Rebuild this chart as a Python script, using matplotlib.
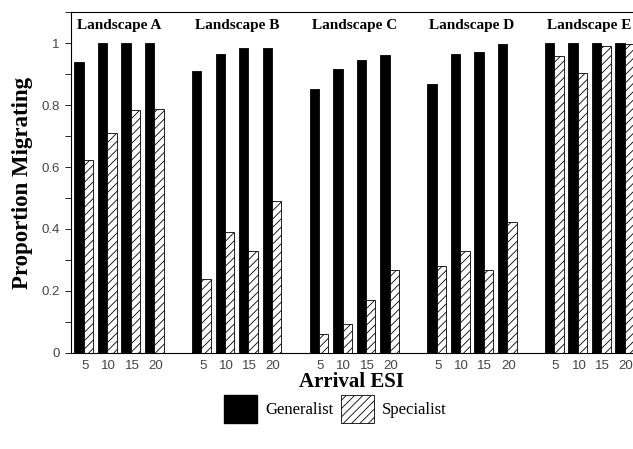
import numpy as np
import matplotlib.pyplot as plt
from matplotlib.patches import Patch
from matplotlib.ticker import MultipleLocator

landscapes = ['Landscape A', 'Landscape B', 'Landscape C', 'Landscape D', 'Landscape E']
esi = ['5', '10', '15', '20']

# proportion migrating per landscape, in order of arrival ESI 5,10,15,20
generalist = [
    [0.938, 1.0, 1.0, 1.0],
    [0.911, 0.965, 0.983, 0.984],
    [0.852, 0.917, 0.946, 0.960],
    [0.869, 0.965, 0.970, 0.997],
    [1.0, 1.0, 1.0, 1.0],
]
specialist = [
    [0.624, 0.711, 0.783, 0.788],
    [0.237, 0.389, 0.330, 0.490],
    [0.061, 0.092, 0.171, 0.267],
    [0.280, 0.330, 0.267, 0.423],
    [0.957, 0.903, 0.992, 0.997],
]

plt.rcParams['hatch.linewidth'] = 0.6
serif = 'Liberation Serif'

fig = plt.figure(figsize=(6.33, 4.49), dpi=100)
ax = fig.add_axes([0.112, 0.214, 0.888, 0.759])

w = 0.4
xs, labels = [], []
for g in range(len(landscapes)):
    pos = np.arange(4) + g * 5
    ax.bar(pos - w / 2, generalist[g], w, color='black', edgecolor='black', linewidth=0.6)
    ax.bar(pos + w / 2, specialist[g], w, color='white', edgecolor='black',
           hatch='////', linewidth=0.6)
    ax.text(pos.mean(), 1.056, landscapes[g], ha='center', va='center',
            fontfamily=serif, fontweight='bold', fontsize=11)
    xs.extend(pos + 0.05)
    labels.extend(esi)

ax.set_xlim(-0.55, 23.35)
ax.set_ylim(0, 1.1)
ax.set_xticks(xs)
ax.set_xticklabels(labels, fontfamily='Liberation Sans', fontsize=9.5, color='#444444')
ax.tick_params(axis='x', length=0, pad=5)
ax.set_yticks([0, 0.2, 0.4, 0.6, 0.8, 1.0])
ax.set_yticklabels(['0', '0.2', '0.4', '0.6', '0.8', '1'],
                   fontfamily='Liberation Sans', fontsize=9.5, color='#444444')
ax.yaxis.set_minor_locator(MultipleLocator(0.1))
ax.tick_params(axis='y', which='both', length=4, width=0.6, pad=4)
ax.spines['right'].set_visible(False)
ax.spines['top'].set_linewidth(0.8)
ax.spines['left'].set_linewidth(0.8)
ax.spines['bottom'].set_linewidth(0.8)

ax.set_ylabel('Proportion Migrating', fontfamily=serif, fontweight='bold', fontsize=16.5, labelpad=6)
ax.set_xlabel('Arrival ESI', fontfamily=serif, fontweight='bold', fontsize=15, labelpad=0)

handles = [Patch(facecolor='black', edgecolor='black', label='Generalist'),
           Patch(facecolor='white', edgecolor='black', hatch='////', linewidth=0.6, label='Specialist')]
fig.legend(handles=handles, loc='center', bbox_to_anchor=(0.53, 0.09), ncol=2, frameon=False,
           prop={'family': serif, 'size': 12}, handlelength=2.0, handleheight=2.2,
           handletextpad=0.5, columnspacing=0.4)

fig.savefig('out.png', dpi=100)
